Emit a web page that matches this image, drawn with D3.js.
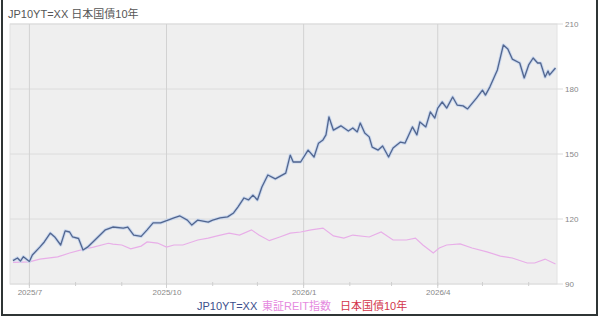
<!DOCTYPE html>
<html>
<head>
<meta charset="utf-8">
<script src="https://cdn.jsdelivr.net/npm/d3@7"></script>
<style>
  html, body { margin: 0; padding: 0; background: #fff; }
  svg { display: block; font-family: "Liberation Sans", Arial, "Noto Sans CJK JP", sans-serif; }
  .tick text { fill: #888; font-size: 8px; }
</style>
</head>
<body>
<div id="chart"></div>
<script>
// ---------------------------------------
// data
const title = "JP10YT=XX 日本国債10年";

const jpDates = [
  "2025-06-20","2025-06-23","2025-06-25","2025-06-27","2025-07-01","2025-07-03","2025-07-08","2025-07-11",
  "2025-07-15","2025-07-18","2025-07-22","2025-07-25","2025-07-28","2025-07-30","2025-08-03","2025-08-06",
  "2025-08-09","2025-08-14","2025-08-21","2025-08-26","2025-09-02","2025-09-05","2025-09-09","2025-09-14",
  "2025-09-18","2025-09-22","2025-09-27","2025-10-02","2025-10-06","2025-10-10","2025-10-15","2025-10-18",
  "2025-10-22","2025-10-29","2025-11-01","2025-11-06","2025-11-11","2025-11-15","2025-11-18","2025-11-22",
  "2025-11-25","2025-11-28","2025-12-01","2025-12-04","2025-12-08","2025-12-13","2025-12-20","2025-12-23",
  "2025-12-25","2025-12-30","2026-01-04","2026-01-08","2026-01-11","2026-01-14","2026-01-16","2026-01-18",
  "2026-01-21","2026-01-26","2026-01-31","2026-02-03","2026-02-06","2026-02-08","2026-02-11","2026-02-14",
  "2026-02-16","2026-02-20","2026-02-23","2026-02-27","2026-03-02","2026-03-07","2026-03-10","2026-03-15",
  "2026-03-18","2026-03-20","2026-03-24","2026-03-27","2026-03-30","2026-04-01","2026-04-04","2026-04-07",
  "2026-04-11","2026-04-14","2026-04-18","2026-04-21","2026-04-27","2026-05-01","2026-05-03","2026-05-06",
  "2026-05-11","2026-05-15","2026-05-18","2026-05-21","2026-05-26","2026-05-29","2026-06-01","2026-06-04",
  "2026-06-07","2026-06-09","2026-06-12","2026-06-14","2026-06-15","2026-06-19"
];
const jpValues = [
  100.8, 102, 100.6, 102.6, 100.4, 103.4, 107, 109.4,
  113.5, 111.7, 108, 114.5, 114, 111.7, 111, 105.7,
  107, 110.3, 115, 116.3, 115.8, 116.3, 112.6, 112,
  115, 118.2, 118.2, 119.5, 120.5, 121.4, 119.5, 117.2,
  119.5, 118.6, 119.5, 120.5, 121, 122.8, 125.6, 129.7,
  128.8, 131, 128.8, 134.8, 140.3, 138.5, 141.2, 149.5,
  146.3, 146.3, 151.8, 148.6, 155, 156.5, 158.8, 167.1,
  161, 163, 160.6, 162, 160.2, 164.3, 159.7, 157.9,
  153.2, 151.8, 153.7, 148.6, 152.8, 155.5, 155, 162.5,
  158.8, 164.8, 162.5, 169.4, 166.6, 171.2, 174, 171.2,
  176.3, 172.6, 172.2, 170.8, 175.8, 179.5, 177.2, 181,
  188.8, 200.3, 198.5, 193.8, 192, 185.1, 191.1, 194.3,
  192, 192, 185.5, 188.3, 186.5, 189.7
];

const reitDates = [
  "2025-06-20","2025-07-01","2025-07-08","2025-07-20","2025-07-28","2025-08-06","2025-08-13","2025-08-23",
  "2025-08-26","2025-09-01","2025-09-07","2025-09-14","2025-09-18","2025-09-25","2025-10-01","2025-10-06",
  "2025-10-12","2025-10-22","2025-10-29","2025-11-04","2025-11-12","2025-11-19","2025-11-27","2025-12-02",
  "2025-12-09","2025-12-16","2025-12-23","2025-12-30","2026-01-06","2026-01-14","2026-01-21","2026-01-28",
  "2026-02-03","2026-02-14","2026-02-22","2026-03-02","2026-03-11","2026-03-17","2026-03-22","2026-03-29",
  "2026-04-02","2026-04-07","2026-04-16","2026-04-24","2026-05-04","2026-05-13","2026-05-21","2026-05-31",
  "2026-06-05","2026-06-12","2026-06-19"
];
const reitValues = [
  100, 100.2, 101.5, 102.5, 104.3, 106, 107, 108.8,
  108.4, 108, 106.2, 107.5, 109.4, 108.9, 107, 108,
  108, 110.3, 111.2, 112.2, 113.5, 112.6, 115, 112.6,
  110, 111.7, 113.5, 114, 115, 115.8, 112.2, 111.2,
  112.6, 111.7, 114, 110.3, 110.3, 111.2, 108, 104.3,
  106.6, 108, 108.5, 106.6, 104.8, 102.9, 102, 99.7,
  99.7, 101.5, 99.2
];

const yTicks = [90, 120, 150, 180, 210];
const xTickDates = ["2025-07-01", "2025-10-01", "2026-01-01", "2026-04-01"];
const xTickLabels = ["2025/7", "2025/10", "2026/1", "2026/4"];
const legendNames = ["JP10YT=XX", "東証REIT指数", "日本国債10年"];
const legendColors = ["#3d4f8c", "#e58ae0", "#d2344a"];

// ---------------------------------------
// svg params
const W = 600, H = 318;
const plot = {left: 10, right: 557, top: 24, bottom: 284};
const parse = d3.timeParse("%Y-%m-%d");

const svg = d3.select("#chart").append("svg")
    .attr("width", W)
    .attr("height", H);

svg.append("rect").attr("width", W).attr("height", H).attr("fill", "#fff");

const x = d3.scaleTime()
    .domain([parse("2025-06-18"), parse("2026-06-20")])
    .range([plot.left, plot.right]);
const y = d3.scaleLinear()
    .domain([90, 210])
    .range([plot.bottom, plot.top]);

// plot background
svg.append("rect")
    .attr("x", plot.left).attr("y", plot.top)
    .attr("width", plot.right - plot.left).attr("height", plot.bottom - plot.top)
    .attr("fill", "#efefef")
    .attr("stroke", "#e2e2e2");

// horizontal grid
svg.append("g").selectAll("line")
    .data(yTicks)
    .join("line")
    .attr("x1", plot.left).attr("x2", plot.right + 6)
    .attr("y1", (d) => y(d)).attr("y2", (d) => y(d))
    .attr("stroke", "#dcdcdc");

// vertical grid at the quarter ticks
svg.append("g").selectAll("line")
    .data(xTickDates.map(parse))
    .join("line")
    .attr("x1", (d) => x(d)).attr("x2", (d) => x(d))
    .attr("y1", plot.top).attr("y2", plot.bottom + 4)
    .attr("stroke", "#d2d2d2");

// monthly minor ticks
const months = d3.timeMonth.range(x.domain()[0], x.domain()[1]);
svg.append("g").selectAll("line")
    .data(months)
    .join("line")
    .attr("x1", (d) => x(d)).attr("x2", (d) => x(d))
    .attr("y1", plot.bottom - 2).attr("y2", plot.bottom + 2)
    .attr("stroke", "#cfcfcf");

// x axis labels
const xAxis = d3.axisBottom(x)
    .tickValues(xTickDates.map(parse))
    .tickFormat((d, i) => xTickLabels[i])
    .tickSize(0)
    .tickPadding(5);
const gx = svg.append("g")
    .attr("transform", `translate(0,${plot.bottom})`)
    .call(xAxis);
gx.select(".domain").remove();

// y axis labels on the right
const yAxis = d3.axisRight(y)
    .tickValues(yTicks)
    .tickSize(0)
    .tickPadding(8);
const gy = svg.append("g")
    .attr("transform", `translate(${plot.right},0)`)
    .call(yAxis);
gy.select(".domain").remove();

// ---------------------------------------
// lines
const jpData = jpDates.map((d, i) => ({date: parse(d), value: jpValues[i]}));
const reitData = reitDates.map((d, i) => ({date: parse(d), value: reitValues[i]}));

const line = d3.line()
    .x((d) => x(d.date))
    .y((d) => y(d.value));

svg.append("path")
    .datum(reitData)
    .attr("fill", "none")
    .attr("stroke", "#e8aee8")
    .attr("stroke-width", 1.2)
    .attr("d", line);

// blue line with its pale halo
svg.append("path")
    .datum(jpData)
    .attr("fill", "none")
    .attr("stroke", "#c9d7ee")
    .attr("stroke-width", 3.2)
    .attr("stroke-linejoin", "round")
    .attr("d", line);
svg.append("path")
    .datum(jpData)
    .attr("fill", "none")
    .attr("stroke", "#52668f")
    .attr("stroke-width", 1.3)
    .attr("stroke-linejoin", "round")
    .attr("d", line);

// ---------------------------------------
// title and legend
svg.append("text")
    .attr("x", 8).attr("y", 18)
    .attr("font-size", 11)
    .attr("fill", "#555")
    .text(title);

const legendX = [197, 262, 340];
svg.append("g").selectAll("text")
    .data(legendNames)
    .join("text")
    .attr("x", (d, i) => legendX[i])
    .attr("y", 310)
    .attr("font-size", 11)
    .attr("fill", (d, i) => legendColors[i])
    .text((d) => d);

// outer frame
svg.append("path")
    .attr("d", `M2,0 V315 H597 V0`)
    .attr("fill", "none")
    .attr("stroke", "#2f3535")
    .attr("stroke-width", 2);
</script>
</body>
</html>
